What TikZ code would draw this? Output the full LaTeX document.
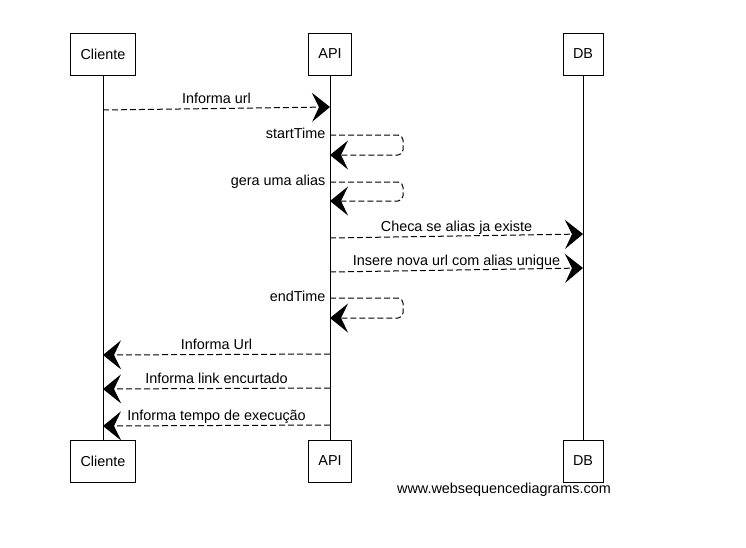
\documentclass[tikz,border=0pt]{standalone}
\usepackage{fontspec}
\setmainfont{Liberation Sans}
\usetikzlibrary{arrows.meta, positioning}

\begin{document}
\begin{tikzpicture}[
    x=1pt, y=-1pt,
    font=\fontsize{14.4}{16}\selectfont,
    actor/.style={draw, line width=1pt, minimum height=42pt,
                  inner xsep=10pt, fill=white},
    life/.style={line width=1pt},
    msg/.style={-{Stealth[length=18pt, width=29pt, inset=7pt]},
                line width=1pt, dash pattern=on 6pt off 3pt},
    lbl/.style={text height=10pt, text depth=3pt, inner sep=1.5pt}
  ]
  \useasboundingbox (0,0) rectangle (746,547);

  \node[actor] (cli) at (103,54) {Cliente};
  \node[actor] (api) at (330,54) {API};
  \node[actor] (db)  at (583,54) {DB};

  \node[actor] (cliB) at (103,461) {Cliente};
  \node[actor] (apiB) at (330,461) {API};
  \node[actor] (dbB)  at (583,461) {DB};

  \draw[life] (cli) -- (cliB);
  \draw[life] (api) -- (apiB);
  \draw[life] (db) -- (dbB);

  \coordinate (m1a) at (103,110);  \coordinate (m1b) at (330,107);
  \coordinate (s1a) at (330,135);  \coordinate (s1b) at (330,155);
  \coordinate (s2a) at (330,182);  \coordinate (s2b) at (330,201);
  \coordinate (m2a) at (330,238);  \coordinate (m2b) at (583,234);
  \coordinate (m3a) at (330,272);  \coordinate (m3b) at (583,268);
  \coordinate (s3a) at (330,298);  \coordinate (s3b) at (330,318);
  \coordinate (m4a) at (330,354);  \coordinate (m4b) at (103,355);
  \coordinate (m5a) at (330,388);  \coordinate (m5b) at (103,389);
  \coordinate (m6a) at (330,425);  \coordinate (m6b) at (103,426);

  \draw[msg] (m1a) -- (m1b) node[lbl, midway, above] {Informa url};

  \draw[msg, rounded corners=5pt] (s1a) -- ++(73,0) -- ++(0,20) -- (s1b);
  \node[lbl, left=3pt of s1a] {startTime};

  \draw[msg, rounded corners=5pt] (s2a) -- ++(73,0) -- ++(0,19) -- (s2b);
  \node[lbl, left=3pt of s2a] {gera uma alias};

  \draw[msg] (m2a) -- (m2b) node[lbl, midway, above] {Checa se alias ja existe};
  \draw[msg] (m3a) -- (m3b) node[lbl, midway, above] {Insere nova url com alias unique};

  \draw[msg, rounded corners=5pt] (s3a) -- ++(73,0) -- ++(0,20) -- (s3b);
  \node[lbl, left=3pt of s3a] {endTime};

  \draw[msg] (m4a) -- (m4b) node[lbl, midway, above] {Informa Url};
  \draw[msg] (m5a) -- (m5b) node[lbl, midway, above] {Informa link encurtado};
  \draw[msg] (m6a) -- (m6b) node[lbl, midway, above] {Informa tempo de execução};

  \node (web) at (504,490) {www.websequencediagrams.com};
\end{tikzpicture}
\end{document}
